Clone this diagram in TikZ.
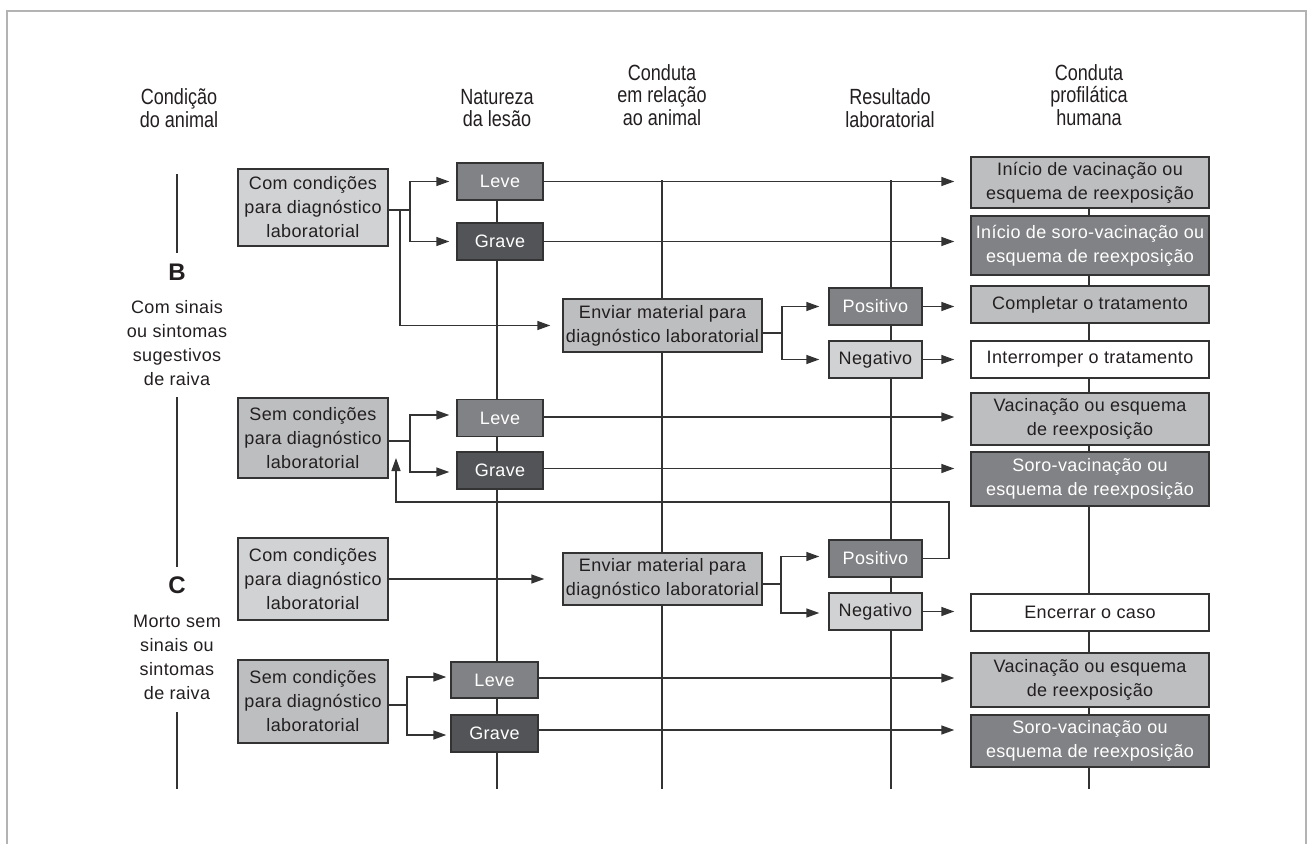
\documentclass[tikz,border=0pt]{standalone}
\usepackage{fontspec}
\setmainfont{Liberation Sans}[LetterSpace=2]
\newfontfamily\hdrfont[FakeStretch=0.82]{Liberation Sans}
\usetikzlibrary{arrows.meta,backgrounds}
\definecolor{lightg}{HTML}{D1D2D4}
\definecolor{midg}{HTML}{BDBEC0}
\definecolor{darkg}{HTML}{818285}
\definecolor{vdarkg}{HTML}{535457}
\definecolor{ln}{HTML}{333333}
\definecolor{framec}{HTML}{B3B3B3}
\definecolor{txt}{HTML}{231F20}
\begin{document}
\begin{tikzpicture}[x=1pt,y=-1pt,
  box/.style={draw=ln, line width=1.4pt, inner sep=0pt, align=center,
    font=\fontsize{18}{24}\selectfont, text=txt},
  wbox/.style={box, text=white},
  hdr/.style={align=center, font=\hdrfont\fontsize{22}{22.5}\selectfont, text=txt, inner sep=0pt},
  side/.style={align=center, font=\fontsize{18}{24}\selectfont, text=txt, inner sep=0pt},
  letter/.style={font=\bfseries\fontsize{24}{24}\selectfont, text=txt, inner sep=0pt},
  link/.style={draw=ln, line width=1.4pt},
  arr/.style={link, -{Triangle[length=13pt,width=9pt]}},
  toleft/.style={arr, shorten >=7pt},
  toright/.style={arr, shorten >=16pt},
]
\useasboundingbox (0,0) rectangle (1307,844);

% headers
\node[hdr] (h1) at (179,108) {Condição\\do animal};
\node[hdr] (h2) at (497,108) {Natureza\\da lesão};
\node[hdr] (h3) at (662,95) {Conduta\\em relação\\ao animal};
\node[hdr] (h4) at (890,108) {Resultado\\laboratorial};
\node[hdr] (h5) at (1089,95) {Conduta\\profilática\\humana};

% side labels
\node[letter] (B) at (177,272) {B};
\node[side] (Btxt) at (177,343) {Com sinais\\ou sintomas\\sugestivos\\de raiva};
\node[letter] (C) at (177,585) {C};
\node[side] (Ctxt) at (177,657) {Morto sem\\sinais ou\\sintomas\\de raiva};

% condition boxes
\node[box, fill=lightg, minimum width=150pt, minimum height=77pt] (c1) at (313,207.5) {Com condições\\para diagnóstico\\laboratorial};
\node[box, fill=midg, minimum width=150pt, minimum height=80pt] (s1) at (313,438) {Sem condições\\para diagnóstico\\laboratorial};
\node[box, fill=lightg, minimum width=150pt, minimum height=82pt] (c2) at (313,579) {Com condições\\para diagnóstico\\laboratorial};
\node[box, fill=midg, minimum width=150pt, minimum height=83pt] (s2) at (313,701.5) {Sem condições\\para diagnóstico\\laboratorial};

% nature of injury
\node[wbox, fill=darkg, minimum width=86pt, minimum height=37pt] (lv1) at (500,181.5) {Leve};
\node[wbox, fill=vdarkg, minimum width=86pt, minimum height=37pt] (gr1) at (500,241.5) {Grave};
\node[wbox, fill=darkg, minimum width=86pt, minimum height=37pt] (lv2) at (500,418) {Leve};
\node[wbox, fill=vdarkg, minimum width=86pt, minimum height=37pt] (gr2) at (500,470.5) {Grave};
\node[wbox, fill=darkg, minimum width=87pt, minimum height=36pt] (lv3) at (494.5,680) {Leve};
\node[wbox, fill=vdarkg, minimum width=87pt, minimum height=37pt] (gr3) at (494.5,733.5) {Grave};

% send material
\node[box, fill=midg, minimum width=199pt, minimum height=53pt] (e1) at (662.5,325.5) {Enviar material para\\diagnóstico laboratorial};
\node[box, fill=midg, minimum width=199pt, minimum height=52pt] (e2) at (662.5,579) {Enviar material para\\diagnóstico laboratorial};

% lab results
\node[wbox, fill=darkg, minimum width=93pt, minimum height=37pt] (p1) at (875.5,306.5) {Positivo};
\node[box, fill=lightg, minimum width=93pt, minimum height=37pt] (n1) at (875.5,359.5) {Negativo};
\node[wbox, fill=darkg, minimum width=93pt, minimum height=37pt] (p2) at (875.5,558.5) {Positivo};
\node[box, fill=lightg, minimum width=93pt, minimum height=37pt] (n2) at (875.5,611.5) {Negativo};

% human prophylaxis
\node[box, fill=midg, minimum width=238pt, minimum height=51pt] (r1) at (1090,182.5) {Início de vacinação ou\\esquema de reexposição};
\node[wbox, fill=darkg, minimum width=238pt, minimum height=59pt] (r2) at (1090,245.5) {Início de soro-vacinação ou\\esquema de reexposição};
\node[box, fill=midg, minimum width=238pt, minimum height=37pt] (r3) at (1090,304.5) {Completar o tratamento};
\node[box, fill=white, minimum width=238pt, minimum height=37pt] (r4) at (1090,359.5) {Interromper o tratamento};
\node[box, fill=midg, minimum width=238pt, minimum height=52pt] (r5) at (1090,419) {Vacinação ou esquema\\de reexposição};
\node[wbox, fill=darkg, minimum width=238pt, minimum height=54pt] (r6) at (1090,479) {Soro-vacinação ou\\esquema de reexposição};
\node[box, fill=white, minimum width=238pt, minimum height=37pt] (r7) at (1090,612.5) {Encerrar o caso};
\node[box, fill=midg, minimum width=238pt, minimum height=54pt] (r8) at (1090,680) {Vacinação ou esquema\\de reexposição};
\node[wbox, fill=darkg, minimum width=238pt, minimum height=52pt] (r9) at (1090,741) {Soro-vacinação ou\\esquema de reexposição};

% junction coordinates
\coordinate (jc1) at (410,210);
\coordinate (jc1b) at (400,210);
\coordinate (js1) at (410,441);
\coordinate (js2) at (407,705);
\coordinate (je1) at (782,333);
\coordinate (je2) at (781,584);
\coordinate (fbx) at (949,502);
\coordinate (fbend) at (396,458);

\begin{scope}[on background layer]
  % frame
  \draw[framec, line width=2pt] (7,844) -- (7,11) -- (1306,11) -- (1306,844);
  % guide lines
  \draw[link] (177,174) -- (177,253);
  \draw[link] (177,397) -- (177,567);
  \draw[link] (177,712) -- (177,789);
  \draw[link] (497,181) -- (497,789);
  \draw[link] (662,180) -- (662,789);
  \draw[link] (891,180) -- (891,789);
  \draw[link] (1089,183) -- (1089,789);
\end{scope}

% connectors: group B with diagnosis
\draw[link] (c1.east |- jc1) -- (jc1);
\draw[toleft] (jc1) |- (lv1.west);
\draw[toleft] (jc1) |- (gr1.west);
\draw[arr, shorten >=12pt] (jc1b) |- (e1.west);
\draw[toright] (lv1.east) -- (lv1.east -| r1.west);
\draw[toright] (gr1.east) -- (gr1.east -| r2.west);
\draw[link] (e1.east |- je1) -- (je1);
\draw[arr, shorten >=9pt] (je1) |- (p1.west);
\draw[arr, shorten >=9pt] (je1) |- (n1.west);
\draw[toright] (p1.east) -- (p1.east -| r3.west);
\draw[toright] (n1.east) -- (n1.east -| r4.west);

% group B without diagnosis
\draw[link] (s1.east |- js1) -- (js1);
\draw[toleft] (js1) |- ([yshift=3pt]lv2.west);
\draw[toleft] (js1) |- ([yshift=-1.5pt]gr2.west);
\draw[toright] ([yshift=1pt]lv2.east) -- ([yshift=1pt]lv2.east -| r5.west);
\draw[toright] ([yshift=2pt]gr2.east) -- ([yshift=2pt]gr2.east -| r6.west);

% group C with diagnosis
\draw[arr, shorten >=18pt] (c2.east) -- (e2.west);
\draw[link] (e2.east |- je2) -- (je2);
\draw[arr, shorten >=9pt] (je2) |- ([yshift=2pt]p2.west);
\draw[arr, shorten >=9pt] (je2) |- ([yshift=-1.5pt]n2.west);
\draw[arr] (p2.east) -| (fbx) -| (fbend);
\draw[toright] (n2.east) -- (n2.east -| r7.west);

% group C without diagnosis
\draw[link] (s2.east |- js2) -- (js2);
\draw[arr, shorten >=4pt] (js2) |- ([yshift=3pt]lv3.west);
\draw[arr, shorten >=4pt] (js2) |- ([yshift=-1.5pt]gr3.west);
\draw[toright] ([yshift=2pt]lv3.east) -- ([yshift=2pt]lv3.east -| r8.west);
\draw[toright] ([yshift=3.5pt]gr3.east) -- ([yshift=3.5pt]gr3.east -| r9.west);
\end{tikzpicture}
\end{document}
